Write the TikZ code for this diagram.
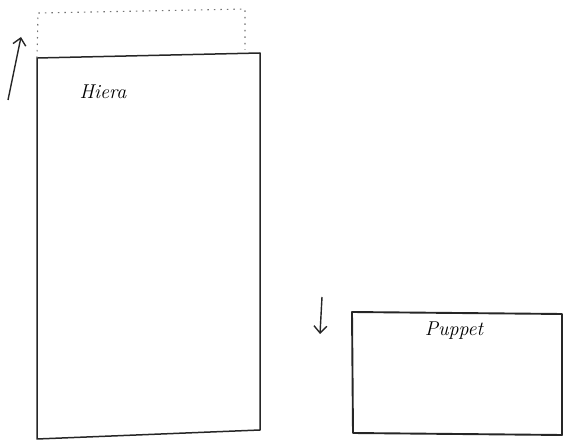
\documentclass[tikz,border=0pt]{standalone}
\usetikzlibrary{arrows.meta}
\begin{document}
\begin{tikzpicture}[x=1pt,y=-1pt,
  boxline/.style={draw=black!85,line width=1.5pt,line cap=round,line join=round},
  dotline/.style={draw=black!55,line width=1.1pt,dash pattern=on 1.5pt off 5pt},
  arr/.style={draw=black!85,line width=1.4pt,-{Straight Barb[length=7pt,width=13pt]}},
  lbl/.style={font=\fontsize{20}{24}\selectfont\itshape}]
\useasboundingbox (0,0) rectangle (565,443);
% Hiera box
\coordinate (htl) at (37,58);
\coordinate (htr) at (260,53);
\coordinate (hbl) at (37,439);
\coordinate (hbr) at (260,430);
\draw[boxline] (htl) -- (htr) -- (hbr) -- (hbl) -- cycle;
% dotted extension
\coordinate (dtl) at (38,13);
\coordinate (dtr) at (245,9);
\draw[dotline] (htl) -- (dtl) -- (dtr) -- (245,50);
\node[lbl] (hiera) at (103,92) {Hiera};
% up arrow
\coordinate (ua0) at (8,100);
\coordinate (ua1) at (21,37);
\draw[arr] (ua0) -- (ua1);
% Puppet box
\coordinate (ptl) at (352,312);
\coordinate (ptr) at (562,314);
\coordinate (pbl) at (353,433);
\coordinate (pbr) at (562,435);
\draw[boxline,line width=1.9pt] (ptl) -- (ptr) -- (pbr) -- (pbl) -- cycle;
\node[lbl] (puppet) at (454,331) {Puppet};
% down arrow
\coordinate (da0) at (322,297);
\coordinate (da1) at (320,334);
\draw[arr] (da0) -- (da1);
\end{tikzpicture}
\end{document}
